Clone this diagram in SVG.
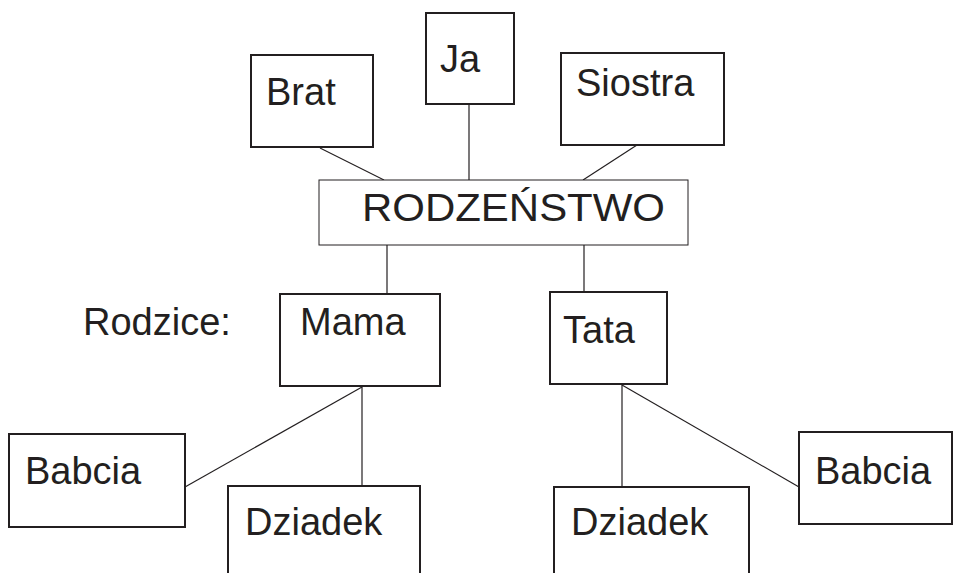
<svg xmlns="http://www.w3.org/2000/svg" width="954" height="573" viewBox="0 0 954 573">
<style>
.box{fill:#fff;stroke:#231f20;stroke-width:2}
.thin{fill:#fff;stroke:#231f20;stroke-width:1}
.t{font-family:"Liberation Sans",Arial,sans-serif;font-size:38px;fill:#231f20}
.ln{stroke:#231f20;stroke-width:1.2;fill:none}
</style>
<rect width="954" height="573" fill="#fff"/>
<g id="connectors">
<line class="ln" x1="320" y1="148" x2="384" y2="180"/>
<line class="ln" x1="469" y1="104" x2="469" y2="180"/>
<line class="ln" x1="637" y1="145" x2="583" y2="180"/>
<line class="ln" x1="387" y1="245" x2="387" y2="294"/>
<line class="ln" x1="584" y1="245" x2="584" y2="292"/>
<line class="ln" x1="362" y1="387" x2="185" y2="487"/>
<line class="ln" x1="362" y1="387" x2="362" y2="486"/>
<line class="ln" x1="622" y1="385" x2="622" y2="487"/>
<line class="ln" x1="622" y1="385" x2="799" y2="487"/>
</g>
<g id="brat"><rect class="box" x="251" y="55" width="122" height="92"/><text class="t" x="266" y="105">Brat</text></g>
<g id="ja"><rect class="box" x="426" y="13" width="88" height="91"/><text class="t" x="440" y="72">Ja</text></g>
<g id="siostra"><rect class="box" x="561" y="53" width="163" height="92"/><text class="t" x="576" y="96">Siostra</text></g>
<g id="rodzenstwo"><rect class="thin" x="319" y="180" width="369" height="65"/><text class="t" x="362" y="221" textLength="303" lengthAdjust="spacingAndGlyphs">RODZEŃSTWO</text></g>
<g id="rodzice"><text class="t" x="83" y="335">Rodzice:</text></g>
<g id="mama"><rect class="box" x="280" y="294" width="160" height="92"/><text class="t" x="300" y="335">Mama</text></g>
<g id="tata"><rect class="box" x="550" y="292" width="117" height="92"/><text class="t" x="563" y="343">Tata</text></g>
<g id="babcia-l"><rect class="box" x="9" y="434" width="176" height="93"/><text class="t" x="25" y="484">Babcia</text></g>
<g id="dziadek-l"><rect class="box" x="228" y="486" width="192" height="100"/><text class="t" x="245" y="535">Dziadek</text></g>
<g id="dziadek-r"><rect class="box" x="554" y="487" width="195" height="100"/><text class="t" x="571" y="535">Dziadek</text></g>
<g id="babcia-r"><rect class="box" x="799" y="432" width="153" height="92"/><text class="t" x="815" y="484">Babcia</text></g>
</svg>
